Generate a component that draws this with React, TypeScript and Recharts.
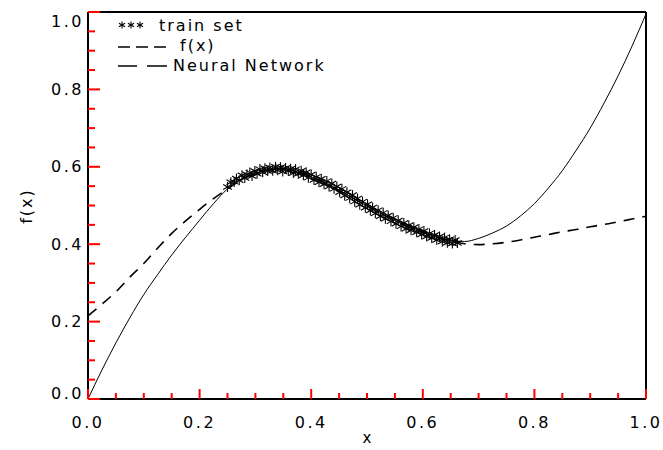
import React from "react";
import { ComposedChart, Line, Scatter, XAxis, YAxis } from "recharts";

// x positions shared by both curves
const CURVE_X = [
  0, 0.025, 0.05, 0.075, 0.1, 0.125, 0.15, 0.175, 0.2, 0.225, 0.25, 0.275, 0.3, 0.325,
  0.35, 0.375, 0.4, 0.425, 0.45, 0.475, 0.5, 0.525, 0.55, 0.575, 0.6, 0.625, 0.65, 0.675,
  0.7, 0.725, 0.75, 0.775, 0.8, 0.825, 0.85, 0.875, 0.9, 0.925, 0.95, 0.975, 1.0,
];
// f(x), solid
const F_Y = [
  0, 0.075, 0.145, 0.21, 0.27, 0.322, 0.372, 0.418, 0.462, 0.505, 0.543, 0.568, 0.584, 0.592,
  0.594, 0.587, 0.574, 0.558, 0.539, 0.519, 0.499, 0.479, 0.461, 0.444, 0.43, 0.418, 0.41, 0.407,
  0.415, 0.429, 0.447, 0.473, 0.505, 0.545, 0.59, 0.643, 0.7, 0.765, 0.835, 0.912, 0.995,
];
// neural network output, dashed
const NN_Y = [
  0.215, 0.245, 0.277, 0.315, 0.35, 0.39, 0.428, 0.46, 0.49, 0.518, 0.543, 0.567, 0.583, 0.592,
  0.594, 0.588, 0.575, 0.558, 0.539, 0.519, 0.499, 0.479, 0.461, 0.444, 0.43, 0.418, 0.408, 0.401,
  0.399, 0.401, 0.405, 0.411, 0.418, 0.425, 0.432, 0.438, 0.445, 0.451, 0.458, 0.465, 0.472,
];

// train set samples
const TRAIN_X = [
  0.25, 0.256, 0.262, 0.266, 0.271, 0.276, 0.281, 0.285, 0.29, 0.294, 0.299, 0.303, 0.308, 0.313,
  0.317, 0.322, 0.326, 0.331, 0.336, 0.34, 0.345, 0.349, 0.354, 0.359, 0.363, 0.368, 0.372, 0.377,
  0.382, 0.386, 0.391, 0.395, 0.4, 0.405, 0.409, 0.414, 0.418, 0.423, 0.428, 0.432, 0.437, 0.441,
  0.446, 0.451, 0.455, 0.46, 0.464, 0.469, 0.474, 0.478, 0.483, 0.487, 0.492, 0.497, 0.501, 0.506,
  0.51, 0.515, 0.52, 0.524, 0.529, 0.533, 0.538, 0.543, 0.547, 0.552, 0.556, 0.561, 0.566, 0.57,
  0.575, 0.579, 0.584, 0.589, 0.593, 0.598, 0.602, 0.607, 0.612, 0.616, 0.621, 0.625, 0.63, 0.635,
  0.639, 0.644, 0.648, 0.653, 0.658, 0.662,
];
const TRAIN_Y = [
  0.548, 0.56, 0.561, 0.57, 0.565, 0.578, 0.571, 0.58, 0.585, 0.576, 0.589, 0.582, 0.594, 0.586,
  0.596, 0.589, 0.598, 0.59, 0.6, 0.591, 0.599, 0.588, 0.597, 0.589, 0.595, 0.584, 0.594, 0.582,
  0.59, 0.578, 0.586, 0.572, 0.58, 0.566, 0.574, 0.56, 0.569, 0.555, 0.563, 0.549, 0.557, 0.543,
  0.549, 0.534, 0.543, 0.526, 0.534, 0.519, 0.527, 0.51, 0.518, 0.502, 0.51, 0.494, 0.503, 0.487,
  0.495, 0.48, 0.488, 0.472, 0.481, 0.466, 0.474, 0.459, 0.468, 0.453, 0.461, 0.446, 0.455, 0.44,
  0.449, 0.436, 0.444, 0.431, 0.439, 0.425, 0.434, 0.42, 0.428, 0.416, 0.424, 0.411, 0.42, 0.407,
  0.417, 0.404, 0.413, 0.402, 0.411, 0.403,
];

const TICKS = [
  0, 0.05, 0.1, 0.15, 0.2, 0.25, 0.3, 0.35, 0.4, 0.45, 0.5,
  0.55, 0.6, 0.65, 0.7, 0.75, 0.8, 0.85, 0.9, 0.95, 1.0,
];
const TICK_LABELS = ["0.0", "0.2", "0.4", "0.6", "0.8", "1.0"];

const LEGEND_LABELS = ["train set", "f(x)", "Neural Network"];
const X_TITLE = "x";
const Y_TITLE = "f(x)";

const fData = CURVE_X.map((x, i) => ({ x, y: F_Y[i] }));
const nnData = CURVE_X.map((x, i) => ({ x, y: NN_Y[i] }));
const trainData = TRAIN_X.map((x, i) => ({ x, y: TRAIN_Y[i] }));

const FONT = "'DejaVu Sans', sans-serif";

const majorIndex = (v: number) => {
  const k = v * 5;
  return Math.abs(k - Math.round(k)) < 1e-6 ? Math.round(k) : -1;
};

function Star({ cx, cy, r = 5 }: any) {
  if (cx == null || cy == null) return null;
  const d = r * 0.87;
  const h = r * 0.5;
  return (
    <g stroke="#000" strokeWidth={1.1}>
      <line x1={cx} y1={cy - r} x2={cx} y2={cy + r} />
      <line x1={cx - d} y1={cy - h} x2={cx + d} y2={cy + h} />
      <line x1={cx - d} y1={cy + h} x2={cx + d} y2={cy - h} />
    </g>
  );
}

const tickPath = (s: string, x: number, y: number, major: boolean) => {
  if (s === "b") return `M${x},${y}L${x},${y - (major ? 10 : 6)}`;
  if (s === "t") return `M${x},${y}L${x},${y + (major ? 10 : 6)}`;
  if (s === "l") return `M${x},${y}L${x + (major ? 12 : 7)},${y}`;
  return `M${x},${y}L${x - (major ? 12 : 7)},${y}`;
};

// axis tick: inward mark plus label (labels only on bottom/left)
const makeTick = (s: "b" | "t" | "l" | "r") => (props: any) => {
  const { x, y, payload } = props;
  const mi = majorIndex(payload.value);
  const mark = (
    <path d={tickPath(s, x, y, mi >= 0)} stroke="red" strokeWidth={2} fill="none" />
  );
  if (mi < 0 || s === "t" || s === "r") return <g>{mark}</g>;
  if (s === "b") {
    return (
      <g>
        {mark}
        <text
          x={x}
          y={y + 23}
          textAnchor="middle"
          dominantBaseline="central"
          fontFamily={FONT}
          fontSize={16}
          letterSpacing={2.5}
          fill="#000"
        >
          {TICK_LABELS[mi]}
        </text>
      </g>
    );
  }
  const shift = mi === 0 ? -6 : mi === 5 ? 9 : 0;
  return (
    <g>
      {mark}
      <text
        x={x - 4}
        y={y + shift}
        textAnchor="end"
        dominantBaseline="central"
        fontFamily={FONT}
        fontSize={16}
        letterSpacing={2.5}
        fill="#000"
      >
        {TICK_LABELS[mi]}
      </text>
    </g>
  );
};

function LegendBox() {
  const txt = { fontFamily: FONT, fontSize: 16, letterSpacing: 2, fill: "#000" };
  return (
    <svg width={360} height={80} style={{ position: "absolute", left: 0, top: 4 }}>
      <Star cx={122} cy={21} r={3.5} />
      <Star cx={131} cy={21} r={3.5} />
      <Star cx={140} cy={21} r={3.5} />
      <text x={159} y={21} dominantBaseline="central" {...txt}>{LEGEND_LABELS[0]}</text>
      <g stroke="#000" strokeWidth={1.5}>
        <line x1={118} y1={43} x2={130} y2={43} />
        <line x1={136} y1={43} x2={148} y2={43} />
        <line x1={154} y1={43} x2={166} y2={43} />
      </g>
      <text x={180} y={41} dominantBaseline="central" {...txt}>{LEGEND_LABELS[1]}</text>
      <g stroke="#000" strokeWidth={1.5}>
        <line x1={118} y1={62} x2={137} y2={62} />
        <line x1={147} y1={62} x2={167} y2={62} />
      </g>
      <text x={173} y={61} dominantBaseline="central" {...txt}>{LEGEND_LABELS[2]}</text>
    </svg>
  );
}

const axisLine = { stroke: "#000", strokeWidth: 2 };

export default function App() {
  return (
    <div style={{ position: "absolute", left: 0, top: 0, width: 663, height: 450, background: "#fff" }}>
      <ComposedChart width={663} height={450} margin={{ top: 0, right: 0, bottom: 0, left: 0 }}>
        <XAxis
          xAxisId="b"
          dataKey="x"
          type="number"
          domain={[0, 1]}
          ticks={TICKS}
          interval={0}
          height={51}
          tickSize={0}
          tickMargin={0}
          tickLine={false}
          axisLine={axisLine}
          tick={makeTick("b")}
        />
        <XAxis
          xAxisId="t"
          orientation="top"
          type="number"
          domain={[0, 1]}
          ticks={TICKS}
          interval={0}
          height={12}
          tickSize={0}
          tickMargin={0}
          tickLine={false}
          axisLine={axisLine}
          tick={makeTick("t")}
        />
        <YAxis
          yAxisId="l"
          type="number"
          domain={[0, 1]}
          ticks={TICKS}
          interval={0}
          width={88}
          tickSize={0}
          tickMargin={0}
          tickLine={false}
          axisLine={axisLine}
          tick={makeTick("l")}
        />
        <YAxis
          yAxisId="r"
          orientation="right"
          type="number"
          domain={[0, 1]}
          ticks={TICKS}
          interval={0}
          width={17}
          tickSize={0}
          tickMargin={0}
          tickLine={false}
          axisLine={axisLine}
          tick={makeTick("r")}
        />
        <Line
          xAxisId="b"
          yAxisId="l"
          data={fData}
          dataKey="y"
          type="monotone"
          stroke="#000"
          strokeWidth={1}
          dot={false}
          activeDot={false}
          isAnimationActive={false}
          legendType="none"
        />
        <Line
          xAxisId="b"
          yAxisId="l"
          data={nnData}
          dataKey="y"
          type="monotone"
          stroke="#000"
          strokeWidth={1.6}
          strokeDasharray="11 8"
          dot={false}
          activeDot={false}
          isAnimationActive={false}
          legendType="none"
        />
        <Scatter
          xAxisId="b"
          yAxisId="l"
          data={trainData}
          dataKey="y"
          shape={(p: any) => <Star cx={p.cx} cy={p.cy} />}
          isAnimationActive={false}
          legendType="none"
        />
      </ComposedChart>
      <LegendBox />
      <div
        style={{
          position: "absolute",
          left: 367,
          top: 438,
          transform: "translate(-50%, -50%)",
          fontFamily: FONT,
          fontSize: 15,
          lineHeight: "15px",
        }}
      >
        {X_TITLE}
      </div>
      <div
        style={{
          position: "absolute",
          left: 27,
          top: 206,
          transform: "translate(-50%, -50%) rotate(-90deg)",
          fontFamily: FONT,
          fontSize: 16,
          letterSpacing: 2,
          lineHeight: "16px",
          whiteSpace: "nowrap",
        }}
      >
        {Y_TITLE}
      </div>
    </div>
  );
}
